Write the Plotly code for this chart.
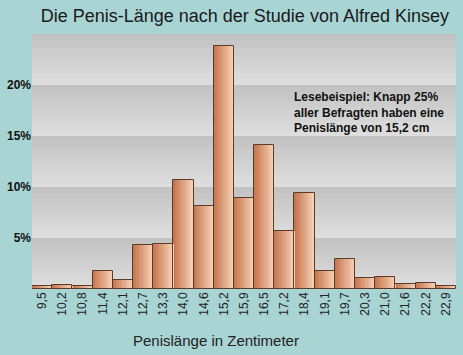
import plotly.graph_objects as go

categories = ["9,5", "10,2", "10,8", "11,4", "12,1", "12,7", "13,3", "14,0", "14,6", "15,2",
              "15,9", "16,5", "17,2", "18,4", "19,1", "19,7", "20,3", "21,0", "21,6", "22,2", "22,9"]
percent = [0.32, 0.42, 0.32, 1.73, 0.91, 4.34, 4.4, 10.65, 8.1, 23.85,
           8.95, 14.15, 5.7, 9.44, 1.77, 2.94, 1.1, 1.2, 0.5, 0.62, 0.32]
y_ticks = [5, 10, 15, 20]
y_tick_text = ["5%", "10%", "15%", "20%"]
title_text = "Die Penis-Länge nach der Studie von Alfred Kinsey"
x_title = "Penislänge in Zentimeter"
note = "Lesebeispiel: Knapp 25%<br>aller Befragten haben eine<br>Penislänge von 15,2 cm"

def lerp(c1, c2, t):
    return "rgb(%d,%d,%d)" % tuple(round(a + (b - a) * t) for a, b in zip(c1, c2))

fig = go.Figure()

# horizontal gradient inside bars
N = 12
left_c = (196, 118, 78)
right_c = (246, 206, 178)
for i in range(N):
    t = i / (N - 1)
    fig.add_trace(go.Bar(
        x=categories, y=percent, width=1.0 / N + 0.01, offset=-0.5 + i / N,
        marker=dict(color=lerp(left_c, right_c, t), line=dict(width=0)),
        hoverinfo="skip", showlegend=False))
# outlines
fig.add_trace(go.Bar(
    x=categories, y=percent, width=1.0, offset=-0.5,
    marker=dict(color="rgba(0,0,0,0)", line=dict(color="#5a3a28", width=1)),
    showlegend=False))

# banded gradient background
shapes = []
bands = [0] + y_ticks + [25]
S = 14
dark = (194, 194, 194)
light = (222, 222, 222)
for b0, b1 in zip(bands[:-1], bands[1:]):
    h = (b1 - b0) / S
    for k in range(S):
        t = k / (S - 1)
        shapes.append(dict(type="rect", xref="paper", yref="y", layer="below",
                           x0=0, x1=1, y0=b1 - (k + 1) * h, y1=b1 - k * h + 0.01,
                           fillcolor=lerp(dark, light, t), line=dict(width=0)))

fig.update_layout(
    width=463, height=355,
    margin=dict(l=32, r=7, t=34, b=66),
    paper_bgcolor="#a8d4d4", plot_bgcolor="#d0d0d0",
    barmode="overlay", bargap=0,
    shapes=shapes,
    font=dict(family="Liberation Sans, Arial, sans-serif", color="#1a1a1a"),
    title=dict(text=title_text, xref="paper", x=0.502, xanchor="center",
               yref="container", y=0.955, yanchor="middle",
               font=dict(size=18, color="#1a1a1a")),
    xaxis=dict(range=[-0.5, 20.5], tickangle=-90, showgrid=False, ticks="",
               tickfont=dict(size=12, color="#222222")),
    yaxis=dict(range=[0, 25], tickvals=y_ticks, ticktext=y_tick_text, showgrid=False,
               zeroline=False, ticks="", tickfont=dict(size=12, color="#111111", weight="bold")),
    annotations=[
        dict(text=note, xref="paper", yref="y", x=0.613, y=19.7,
             xanchor="left", yanchor="top", align="left", showarrow=False,
             font=dict(size=12, color="#111111", weight="bold")),
        dict(text=x_title, xref="paper", yref="paper", x=0.434, y=-0.2,
             xanchor="center", yanchor="middle", showarrow=False,
             font=dict(size=15, color="#222222")),
    ],
)

fig.write_html("out.html")
